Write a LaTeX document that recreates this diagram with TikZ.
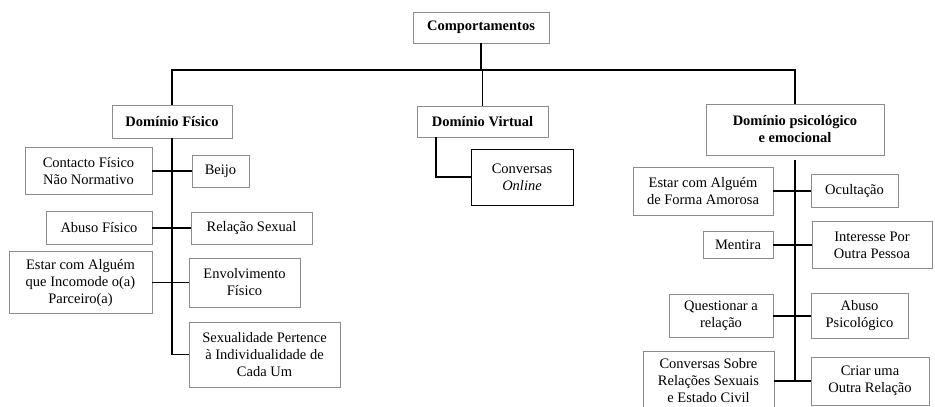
\documentclass[tikz,border=0pt]{standalone}
\usepackage{fontspec}
\setmainfont{Liberation Serif}

\begin{document}
\begin{tikzpicture}[x=1pt,y=-1pt,
        box/.style={draw=black!45, line width=0.9pt, align=center, inner sep=0pt,
                font=\fontsize{14.5}{17}\selectfont},
        head/.style={box, font=\fontsize{14.5}{17}\selectfont\bfseries},
        link/.style={black, line width=1.6pt}]
        \useasboundingbox (0,0) rectangle (935,407);
        \clip (0,0) rectangle (935,407);
        \coordinate (bar) at (0,70);
        \node [head, minimum width=136, minimum height=31] (comp) at (481,27.5) {Comportamentos};
        \node [head, minimum width=120, minimum height=33] (fis) at (172,121.5) {Domínio Físico};
        \node [head, minimum width=131, minimum height=31] (virt) at (482.5,121.5) {Domínio Virtual};
        \node [head, minimum width=178, minimum height=51] (psi) at (795,129.5) {Domínio psicológico\\e emocional};
        \node [box, minimum width=127, minimum height=47] (contacto) at (88.5,171) {Contacto Físico\\Não Normativo};
        \node [box, minimum width=57, minimum height=32] (beijo) at (220.5,171) {Beijo};
        \node [box, minimum width=106, minimum height=33] (abuso) at (99,228) {Abuso Físico};
        \node [box, minimum width=121, minimum height=32] (relacao) at (251.5,228) {Relação Sexual};
        \node [box, minimum width=143, minimum height=62] (estar) at (80.5,282.5) {Estar com Alguém\\que Incomode o(a)\\Parceiro(a)};
        \node [box, minimum width=111, minimum height=49] (envolv) at (244.5,282.5) {Envolvimento\\Físico};
        \node [box, minimum width=151, minimum height=65] (sexual) at (264.5,354.5) {Sexualidade Pertence\\à Individualidade de\\Cada Um};
        \node [box, draw=black, minimum width=102, minimum height=56] (online) at (522,177) {Conversas\\\textit{Online}};
        \node [box, minimum width=140, minimum height=48] (amorosa) at (703,191) {Estar com Alguém\\de Forma Amorosa};
        \node [box, minimum width=87, minimum height=33] (ocult) at (854.5,191) {Ocultação};
        \node [box, minimum width=70, minimum height=27] (mentira) at (738,245) {Mentira};
        \node [box, minimum width=120, minimum height=47] (interesse) at (872,245) {Interesse Por\\Outra Pessoa};
        \node [box, minimum width=104, minimum height=43] (quest) at (721,316) {Questionar a\\relação};
        \node [box, minimum width=97, minimum height=45] (abpsi) at (859.5,316) {Abuso\\Psicológico};
        \node [box, minimum width=131, minimum height=60] (convsobre) at (708.5,381) {Conversas Sobre\\Relações Sexuais\\e Estado Civil};
        \node [box, minimum width=118, minimum height=48] (criar) at (870,381) {Criar uma\\Outra Relação};
        \draw [link] (comp.south) -- (comp.south |- bar);
        \draw [link] (fis.north) -- (fis.north |- bar) -- (psi.north |- bar) -- (psi.north);
        \draw [link] (virt.north) -- (virt.north |- bar);
        \draw [link] (fis.south) |- (sexual.west);
        \draw [link] (contacto.east) -- (beijo.west);
        \draw [link] (abuso.east) -- (relacao.west);
        \draw [link] (estar.east) -- (envolv.west);
        \draw [link] ([xshift=-46.5pt]virt.south) |- (online.west);
        \draw [link] ([yshift=-5pt]psi.south) -- (psi.south |- convsobre.east);
        \draw [link] (amorosa.east) -- (ocult.west);
        \draw [link] (mentira.east) -- (interesse.west);
        \draw [link] (quest.east) -- (abpsi.west);
        \draw [link] (convsobre.east) -- (criar.west);
\end{tikzpicture}
\end{document}
